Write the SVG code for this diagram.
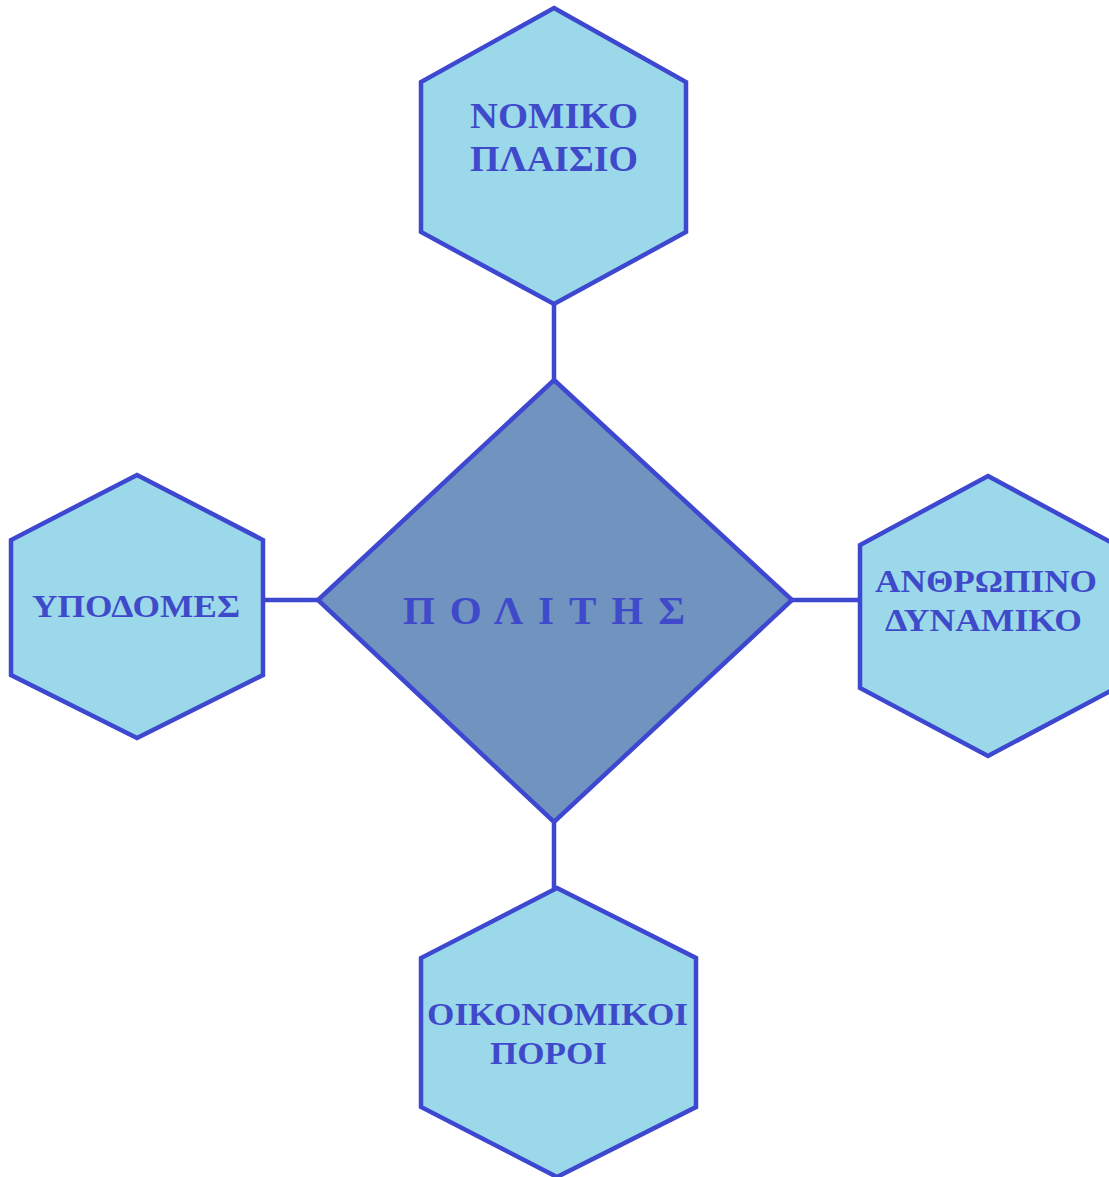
<svg xmlns="http://www.w3.org/2000/svg" width="1109" height="1177" viewBox="0 0 1109 1177">
  <style>
    .hex { fill: #9bd9ea; stroke: #3d47cf; stroke-width: 4.5; stroke-linejoin: miter; }
    .core { fill: #7093bf; stroke: #3d47cf; stroke-width: 4.5; stroke-linejoin: miter; }
    .link { stroke: #3d47cf; stroke-width: 4.5; fill: none; }
    .lbl { font-family: "Liberation Serif", "Times New Roman", serif; font-weight: bold; fill: #3f4acb; }
  </style>
  <rect width="1109" height="1177" fill="#ffffff"/>

  <!-- connectors between the centre and the four surrounding nodes -->
  <g id="connectors">
    <line class="link" x1="554" y1="304" x2="554" y2="382"/>
    <line class="link" x1="263" y1="600" x2="320" y2="600"/>
    <line class="link" x1="790" y1="600" x2="860" y2="600"/>
    <line class="link" x1="554" y1="820" x2="554" y2="888"/>
  </g>

  <g id="node-politis">
    <polygon class="core" points="554,380 792,600 554,822 318,600"/>
    <text class="lbl" x="403" y="624" font-size="41" textLength="282" lengthAdjust="spacing">ΠΟΛΙΤΗΣ</text>
  </g>

  <g id="node-nomiko">
    <polygon class="hex" points="554,8 686,82 686,232 554,304 421,232 421,82"/>
    <text class="lbl" x="470" y="128" font-size="36" textLength="168" lengthAdjust="spacingAndGlyphs">ΝΟΜΙΚΟ</text>
    <text class="lbl" x="470" y="171" font-size="36" textLength="168" lengthAdjust="spacingAndGlyphs">ΠΛΑΙΣΙΟ</text>
  </g>

  <g id="node-ypodomes">
    <polygon class="hex" points="137,475 263,540 263,675 137,738 11,675 11,540"/>
    <text class="lbl" x="32" y="617" font-size="31" textLength="208" lengthAdjust="spacingAndGlyphs">ΥΠΟΔΟΜΕΣ</text>
  </g>

  <g id="node-anthropino">
    <polygon class="hex" points="988,476 1116,545 1116,688 988,756 860,688 860,545"/>
    <text class="lbl" x="875" y="592" font-size="31" textLength="222" lengthAdjust="spacingAndGlyphs">ΑΝΘΡΩΠΙΝΟ</text>
    <text class="lbl" x="885" y="631" font-size="31" textLength="197" lengthAdjust="spacingAndGlyphs">ΔΥΝΑΜΙΚΟ</text>
  </g>

  <g id="node-oikonomikoi">
    <polygon class="hex" points="557,888 696,958 696,1107 557,1177 421,1107 421,958"/>
    <text class="lbl" x="427" y="1025" font-size="31" textLength="261" lengthAdjust="spacingAndGlyphs">ΟΙΚΟΝΟΜΙΚΟΙ</text>
    <text class="lbl" x="490" y="1064" font-size="31" textLength="117" lengthAdjust="spacingAndGlyphs">ΠΟΡΟΙ</text>
  </g>
</svg>
